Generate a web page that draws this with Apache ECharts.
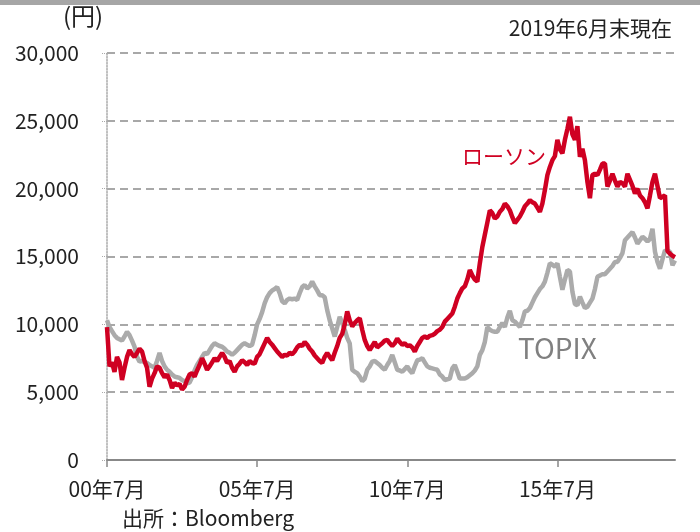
<!DOCTYPE html>
<html>
<head>
<meta charset="utf-8">
<script src="https://cdn.jsdelivr.net/npm/echarts@6/dist/echarts.min.js"></script>
<style>
  html, body { margin: 0; padding: 0; background: #fff; }
  #main { width: 700px; height: 532px; }
</style>
</head>
<body>
<div id="main"></div>
<script>
// 月次データ（2000年7月〜2019年6月）
var startYear = 2000;
var startMonth = 7;

// ローソン株価（円）
var lawson = [
  9800, 6900, 7200, 6500, 7600, 7200, 5900, 6800, 7600, 8100, 7800, 7600,
  7900, 8200, 8000, 7300, 6800, 5400, 6000, 6400, 6900, 6800, 6400, 6100,
  6300, 5900, 5300, 5700, 5500, 5600, 5200, 5400, 5900, 6300, 6400, 6150,
  6600, 7000, 7500, 7100, 6650, 6900, 7200, 7500, 7300, 7600, 7900, 7600,
  7150, 7300, 6800, 6500, 6900, 7100, 7350, 7200, 7000, 7300, 7150, 7100,
  7600, 7800, 8200, 8600, 9000, 8700, 8500, 8250, 8000, 7800, 7600, 7750,
  7700, 7900, 7800, 8000, 8300, 8500, 8400, 8700, 8500, 8200, 8000, 7700,
  7500, 7300, 7150, 7600, 7900, 7600, 7350, 7900, 8400, 9000, 9300, 10000,
  10950, 10300, 9850, 10100, 10300, 10450, 9600, 8850, 8400, 8100, 8400, 8700,
  8300, 8450, 8600, 8800, 8850, 8600, 8400, 8600, 8950, 8700, 8500, 8600,
  8400, 8450, 8300, 8000, 8400, 8700, 9000, 9100, 9000, 9150, 9200, 9300,
  9500, 9600, 9800, 10200, 10400, 10600, 10800, 11300, 11900, 12300, 12650, 12800,
  13300, 14000, 13600, 13300, 13150, 14500, 15700, 16600, 17500, 18400, 18200, 17800,
  17950, 18300, 18500, 18900, 18700, 18400, 17900, 17450, 17700, 17950, 18300, 18700,
  18900, 19150, 19000, 18900, 18600, 18300, 18900, 19900, 21000, 21600, 22100, 22400,
  23600, 22900, 22600, 23600, 24400, 25300, 24000, 23600, 24600, 22350, 22950, 22100,
  20500, 19300, 21000, 21100, 21000, 21400, 21850, 21850, 20150, 20600, 21100, 20600,
  20150, 20500, 20400, 20150, 21100, 20650, 20200, 19650, 20000, 19500, 19300, 19000,
  18550, 19500, 20500, 21100, 20200, 19300, 19400, 19500, 15400, 15200, 15050, 14950
];

// TOPIX（ローソン株価に合わせて指数化）
var topix = [
  10300, 9800, 9500, 9200, 9000, 8900, 8800, 9100, 9450, 9200, 8800, 8350,
  7600, 7250, 7300, 7200, 7150, 7000, 6900, 6800, 7300, 7900, 7300, 6900,
  6650, 6500, 6300, 6150, 6100, 6050, 5900, 5800, 5650, 5700, 6100, 6600,
  7000, 7300, 7600, 7900, 7800, 8100, 8400, 8600, 8500, 8400, 8350, 8200,
  8000, 7900, 7750, 7900, 8100, 8300, 8500, 8600, 8500, 8400, 8500, 9200,
  10000, 10400, 10900, 11550, 12000, 12300, 12500, 12600, 12750, 12300, 11700, 11550,
  11800, 11900, 11850, 11900, 11800, 12300, 12750, 12900, 12650, 12800, 13150, 12800,
  12500, 12150, 12150, 12000, 11050, 10300, 9700, 9100, 9800, 10550, 10100, 9600,
  9000, 8600, 6650, 6500, 6400, 6150, 5800, 6000, 6650, 6900, 7250, 7300,
  7150, 7000, 6800, 6650, 7000, 7300, 7750, 7200, 6650, 6600, 6500, 6700,
  6900, 6600, 6400, 6900, 7350, 7400, 7500, 7200, 6900, 6800, 6750, 6700,
  6650, 6300, 6150, 5900, 5950, 6000, 6750, 7000, 6500, 6000, 6000, 6000,
  6100, 6250, 6400, 6600, 6900, 7750, 8100, 8700, 9800, 9600, 9500, 9450,
  9450, 9800, 10100, 9800, 10500, 11000, 10300, 10200, 10000, 9800, 10300, 10950,
  11000, 11200, 11600, 12000, 12300, 12600, 12800, 13150, 13800, 14500, 14400, 14250,
  14500, 13500, 12550, 13300, 14000, 13900, 12400, 11500, 11400, 12050, 11600, 11200,
  11300, 11600, 11900, 12600, 13500, 13600, 13700, 13700, 13900, 14100, 14300, 14600,
  14600, 14900, 15250, 16200, 16400, 16600, 16800, 16400, 15950, 16200, 16450, 16300,
  16100, 16300, 17050, 15350, 14600, 14100, 14800, 15450, 15400, 15350, 14350, 14700
];

// 横軸ラベル（5年ごと）
var labelEvery = 60;
var months = [];
for (var i = 0; i < lawson.length; i++) {
  var m = startMonth - 1 + i;
  var y = startYear + Math.floor(m / 12);
  var mm = (m % 12) + 1;
  months.push(String(y % 100).padStart(2, '0') + '年' + mm + '月');
}

var red_color = '#cf0022';
var gray_color = '#ababab';
var font = '"Noto Sans CJK JP", "Noto Sans", sans-serif';

var myChart = echarts.init(document.getElementById('main'));

var option = {
  animation: false,
  backgroundColor: '#fff',
  grid: { left: 107, right: 25, top: 53, bottom: 72 },
  xAxis: {
    type: 'category',
    data: months,
    boundaryGap: false,
    axisLine: { lineStyle: { color: '#888', width: 2 } },
    axisTick: {
      show: true,
      length: 7,
      interval: function (idx) { return idx % labelEvery === 0; },
      lineStyle: { color: '#888', width: 1.5 }
    },
    axisLabel: {
      interval: function (idx) { return idx % labelEvery === 0; },
      color: '#222',
      fontFamily: font,
      fontSize: 21,
      margin: 19
    },
    splitLine: { show: false }
  },
  yAxis: {
    type: 'value',
    min: 0,
    max: 30000,
    interval: 5000,
    axisLine: { show: true, lineStyle: { color: '#aaa', width: 1.5, type: 'dotted' } },
    axisTick: { show: true, length: 6, lineStyle: { color: '#aaa', type: 'dotted' } },
    axisLabel: {
      color: '#222',
      fontFamily: font,
      fontSize: 21,
      margin: 28,
      formatter: function (v) { return v.toLocaleString('en-US'); }
    },
    splitLine: { lineStyle: { color: '#8c8c8c', width: 1.5, type: [8, 5] } }
  },
  series: [
    {
      name: 'TOPIX',
      type: 'line',
      data: topix,
      symbol: 'none',
      lineStyle: { color: gray_color, width: 4.5 },
      z: 2
    },
    {
      name: 'ローソン',
      type: 'line',
      data: lawson,
      symbol: 'none',
      lineStyle: { color: red_color, width: 4.5 },
      z: 3
    }
  ],
  graphic: [
    { type: 'rect', left: 0, top: 0, shape: { width: 700, height: 5 }, style: { fill: '#a6a6a6' } },
    { type: 'text', left: 63, top: 4, style: { text: '(円)', font: '24px ' + font, fill: '#222' } },
    { type: 'text', right: 28, top: 18, style: { text: '2019年6月末現在', font: '21px ' + font, fill: '#222' } },
    { type: 'text', left: 462, top: 146, style: { text: 'ローソン', font: '21px ' + font, fill: red_color } },
    { type: 'text', left: 518, top: 334, style: { text: 'TOPIX', font: '28px ' + font, fill: '#808080' } },
    { type: 'text', left: 122, top: 508, style: { text: '出所：Bloomberg', font: '21px ' + font, fill: '#222' } }
  ]
};

myChart.setOption(option);
</script>
</body>
</html>
